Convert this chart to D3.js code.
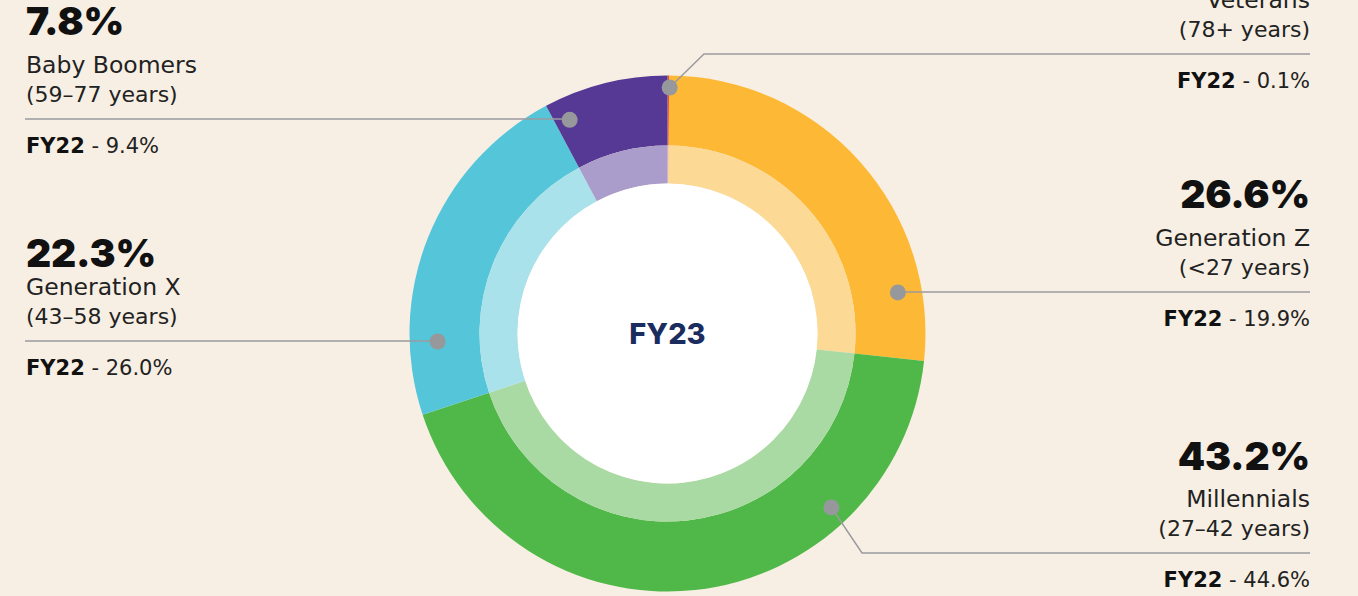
<!DOCTYPE html>
<html>
<head>
<meta charset="utf-8">
<script src="https://cdn.jsdelivr.net/npm/d3@7"></script>
<style>
  html, body { margin: 0; padding: 0; background: #f7efe3; }
  svg { display: block; }
  text { font-family: "DejaVu Sans", sans-serif; }
  .big, .center { font-family: Inter, sans-serif; }
</style>
</head>
<body>
<svg width="1358" height="596"></svg>
<script>
// generations, FY23 share (ring) and FY22 share (labels)
const groups = ["Veterans", "Generation Z", "Millennials", "Generation X", "Baby Boomers"];
const ranges = ["(78+ years)", "(<27 years)", "(27–42 years)", "(43–58 years)", "(59–77 years)"];
const fy23 = [0.1, 26.6, 43.2, 22.3, 7.8];
const fy22 = [0.1, 19.9, 44.6, 26.0, 9.4];

const colors = ["#ea4b3c", "#fdb935", "#50b848", "#55c5d9", "#553994"];
const lightColors = ["#f4a59d", "#fdd996", "#a9daa3", "#aae2ec", "#aa9ccb"];

// where each leader line starts (angle in degrees, radius) and where its label sits
const callouts = [
  {angle: 0.5, r: 246, side: "right", lineY: 54, elbowX: 704, bigY: null},
  {angle: 79.9, r: 234, side: "right", lineY: 292, elbowX: null, bigY: 208},
  {angle: 136.7, r: 239, side: "right", lineY: 553, elbowX: 862, bigY: 470},
  {angle: 268, r: 230, side: "left", lineY: 341, elbowX: null, bigY: 267},
  {angle: 335.4, r: 235, side: "left", lineY: 119, elbowX: null, bigY: 35}
];

const svg = d3.select("svg");

const cx = 667.5, cy = 333.5;
const rOuter = 258, rMid = 188, rInner = 150;

const pie = d3.pie().sort(null).value(d => d);
const arcs = pie(fy23);

const outerArc = d3.arc().innerRadius(rMid).outerRadius(rOuter);
const innerArc = d3.arc().innerRadius(rInner).outerRadius(rMid);

const chart = svg.append("g").attr("transform", `translate(${cx},${cy})`);

chart.selectAll(".outer")
  .data(arcs)
  .join("path")
    .attr("class", "outer")
    .attr("d", outerArc)
    .attr("fill", (d, i) => colors[i]);

chart.selectAll(".inner")
  .data(arcs)
  .join("path")
    .attr("class", "inner")
    .attr("d", innerArc)
    .attr("fill", (d, i) => lightColors[i]);

chart.append("circle")
  .attr("r", rInner)
  .attr("fill", "#fff");

chart.append("text")
  .attr("class", "center")
  .attr("text-anchor", "middle")
  .attr("y", 10)
  .attr("font-size", 29)
  .attr("font-weight", 800)
  .attr("fill", "#1b2d5e")
  .text("FY23");

// leader lines + dots
const leaders = svg.append("g");
const labels = svg.append("g");
const leftX = 26, rightX = 1310;

callouts.forEach((c, i) => {
  const [px, py] = d3.pointRadial(c.angle * Math.PI / 180, c.r);
  const dx = cx + px, dy = cy + py;
  const endX = c.side === "right" ? rightX : leftX - 1;
  const pts = [[dx, dy]];
  if (c.elbowX !== null) pts.push([c.elbowX, c.lineY]);
  else pts.push([dx, c.lineY]);
  pts.push([endX, c.lineY]);

  leaders.append("path")
    .attr("d", d3.line()(pts))
    .attr("fill", "none")
    .attr("stroke", "#9a9b9e")
    .attr("stroke-width", 1.5);

  leaders.append("circle")
    .attr("cx", dx)
    .attr("cy", dy)
    .attr("r", 8)
    .attr("fill", "#97989b");

  const tx = c.side === "right" ? rightX : leftX;
  const anchor = c.side === "right" ? "end" : "start";
  const g = labels.append("g").attr("text-anchor", anchor).attr("fill", "#111");

  // the veterans' FY23 figure sits above the visible frame
  if (c.bigY !== null) {
    g.append("text")
      .attr("class", "big")
      .attr("x", tx).attr("y", c.bigY)
      .attr("font-size", 39)
      .attr("font-weight", 900)
      .attr("letter-spacing", -0.2)
      .text(fy23[i].toFixed(1) + "%");
  }

  g.append("text")
    .attr("x", tx).attr("y", c.lineY - 46)
    .attr("font-size", 23.5)
    .attr("fill", "#222")
    .text(groups[i]);

  g.append("text")
    .attr("x", tx).attr("y", c.lineY - 17)
    .attr("font-size", 22)
    .attr("fill", "#222")
    .text(ranges[i]);

  const fy = g.append("text")
    .attr("x", tx).attr("y", c.lineY + 34)
    .attr("font-size", 21);
  fy.append("tspan").attr("font-weight", 700).text("FY22");
  fy.append("tspan").attr("fill", "#222").text(" - " + fy22[i].toFixed(1) + "%");
});
</script>
</body>
</html>
